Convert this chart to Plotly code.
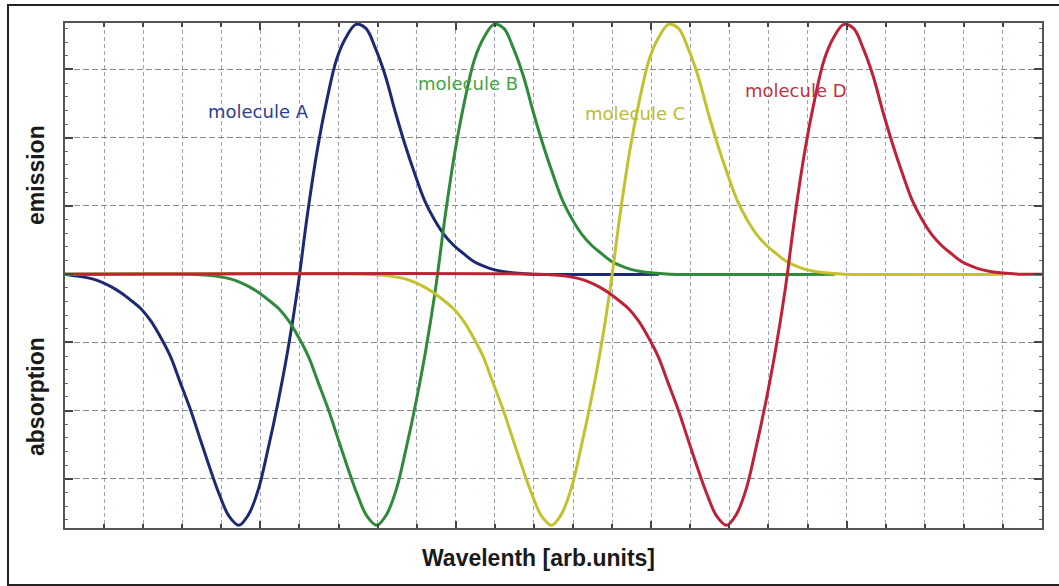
import plotly.graph_objects as go

# ---- data ----
# Common absorption/emission profile, offset from the absorption minimum
# (x in wavelength grid units, y: + emission / - absorption).
profile_dx = [-4.75, -4.5, -4.25, -4.0, -3.75, -3.5, -3.25, -3.0, -2.75, -2.5, -2.25,
              -2.0, -1.75, -1.5, -1.25, -1.0, -0.75, -0.5, -0.25, 0.0, 0.25, 0.5, 0.75,
              1.0, 1.25, 1.5, 1.75, 2.0, 2.25, 2.5, 2.75, 3.0, 3.25, 3.5, 3.75, 4.0,
              4.25, 4.5, 4.75, 5.0, 5.25, 5.5, 5.75, 6.0, 6.25, 6.5, 6.75, 7.0, 7.25, 7.5]
profile_y = [0, -0.01, -0.02, -0.04, -0.07, -0.12, -0.19, -0.28, -0.39, -0.51, -0.69,
             -0.93, -1.21, -1.59, -1.97, -2.40, -2.83, -3.23, -3.55, -3.68, -3.52, -3.15,
             -2.55, -1.88, -1.12, -0.22, 0.86, 1.80, 2.55, 3.15, 3.48, 3.66, 3.60, 3.30,
             2.90, 2.38, 1.90, 1.47, 1.08, 0.80, 0.58, 0.42, 0.30, 0.19, 0.12, 0.07, 0.04,
             0.02, 0.01, 0]

molecules = ["molecule A", "molecule B", "molecule C", "molecule D"]
absorption_min = [4.45, 7.98, 12.45, 16.93]   # wavelength of the absorption minimum
line_end = [15.2, 19.7, 24.05, 25.0]          # last wavelength drawn for each trace
line_colors = ["#1b2a72", "#2f8a3a", "#c2c22e", "#bf2236"]
label_colors = ["#2d3f93", "#46a346", "#bcbc2a", "#c4303f"]
label_x = [4.94, 10.31, 14.59, 18.71]
label_y = [2.38, 2.79, 2.35, 2.69]

W, H = 1059, 586
ML, MR, MT, MB = 65, 17, 23, 58
PW, PH = W - ML - MR, H - MT - MB


def px(xp):
    return (xp - ML) / PW


def py(yp):
    return (H - MB - yp) / PH


fig = go.Figure()
for name, x0, xend, col in zip(molecules, absorption_min, line_end, line_colors):
    xs, ys = [0.0], [0.0]
    for dx, v in zip(profile_dx, profile_y):
        if x0 + dx > 0:
            xs.append(x0 + dx)
            ys.append(v)
    xs.append(xend)
    ys.append(0.0)
    fig.add_trace(go.Scatter(
        x=xs, y=ys, mode="lines", name=name,
        line=dict(color=col, width=3, shape="spline", smoothing=1.0),
        hoverinfo="skip", showlegend=False,
    ))

for name, lx, ly, col in zip(molecules, label_x, label_y, label_colors):
    fig.add_annotation(x=lx, y=ly, xref="x", yref="y", text=name, showarrow=False,
                       xanchor="center", yanchor="middle",
                       font=dict(family="DejaVu Sans", size=18, color=col))

title_font = dict(family="Liberation Sans", size=23, color="#1a1a1a", weight="bold")
for text, cx, cy, ang in [("Wavelenth [arb.units]", 538, 558, 0),
                          ("emission", 36, 175, -90),
                          ("absorption", 36, 397, -90)]:
    fig.add_annotation(x=px(cx), y=py(cy), xref="paper", yref="paper", text=text,
                       textangle=ang, showarrow=False, xanchor="center",
                       yanchor="middle", font=title_font)

# outer frame of the figure
fig.add_shape(type="rect", xref="paper", yref="paper",
              x0=px(8), x1=px(1070), y0=py(585), y1=py(5),
              line=dict(color="#222222", width=2), layer="below")

fig.update_xaxes(
    range=[0, 25], showticklabels=False, tick0=0, dtick=5,
    ticks="inside", ticklen=7, tickwidth=2, tickcolor="#444",
    showgrid=True, gridcolor="#9aa0c4", gridwidth=1, griddash="4px,3px",
    minor=dict(dtick=1, tick0=0, ticks="inside", ticklen=4, tickwidth=2, tickcolor="#444",
               showgrid=True, gridcolor="#9aa0c4", gridwidth=1, griddash="4px,3px"),
    showline=True, linecolor="#555", linewidth=2, mirror="ticks", zeroline=False,
)
fig.update_yaxes(
    range=[-3.72, 3.68], showticklabels=False, tick0=0, dtick=1,
    ticks="inside", ticklen=8, tickwidth=2, tickcolor="#444",
    showgrid=True, gridcolor="#8c8c8c", gridwidth=1, griddash="6px,3px",
    minor=dict(dtick=0.2, tick0=0, ticks="inside", ticklen=3, tickwidth=1,
               tickcolor="#666", showgrid=False),
    showline=True, linecolor="#555", linewidth=2, mirror="ticks", zeroline=False,
)

fig.update_layout(
    width=W, height=H, autosize=False,
    margin=dict(l=ML, r=MR, t=MT, b=MB),
    paper_bgcolor="white", plot_bgcolor="white",
)

fig.write_html("out.html")
